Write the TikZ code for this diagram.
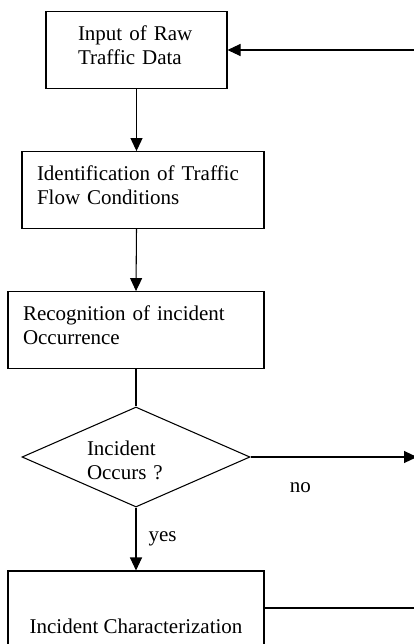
\documentclass[tikz,border=0pt]{standalone}
\usepackage{fontspec}
\setmainfont{Liberation Serif}
\usetikzlibrary{shapes.geometric,arrows.meta,positioning}

\tikzset{
  stepbox/.style={draw, line width=0.8pt, rectangle, align=left,
    inner xsep=11.25pt, inner ysep=10.5pt, text depth=25.5pt},
  endbox/.style={draw, line width=0.8pt, rectangle, align=center,
    minimum width=192pt, minimum height=82.5pt, inner sep=0pt},
  decide/.style={draw, line width=0.8pt, shape=diamond, aspect=2.28,
    minimum width=171pt, minimum height=75pt, inner sep=0pt,
    text width=73.5pt, align=left, text height=16.5pt},
  flow/.style={line width=0.8pt, -{Triangle[length=9.75pt,width=9pt]}},
  plain/.style={line width=0.8pt},
  tag/.style={inner sep=0pt}
}

\begin{document}
\begin{tikzpicture}[x=0.75pt, y=-0.75pt, font=\fontsize{15.75}{18}\selectfont]
%\draw[help lines, step=50] (0,0) grid (414,644);
\useasboundingbox (0,0) rectangle (414,644);
\clip (0,0) rectangle (414,644);

\node[stepbox, inner xsep=24pt, text width=87.75pt] (rawdata) at (136.5,50)
  {Input of Raw\\Traffic Data};
\node[stepbox, text width=159pt] (flowcond) at (143,190)
  {Identification of Traffic\\Flow Conditions};
\node[stepbox, text width=169.5pt] (recog) at (136,330)
  {Recognition of incident\\Occurrence};
\node[decide] (occurs) at (136,457) {Incident\\Occurs ?};
\node[endbox] (charact) at (136,626) {Incident Characterization};

\coordinate (noend) at (417,457);
\coordinate (loopin) at (420,50);
\coordinate (loopout) at (420,608);

\draw[flow] (rawdata.south) -- (rawdata.south |- flowcond.north);
\draw[flow] (rawdata.south |- flowcond.south) -- (recog.north);
\draw[plain] (recog.south) -- (occurs.north);
\draw[flow] (occurs.south) -- node[tag, midway, right=9pt] {yes} (charact.north);
\draw[flow] (occurs.east) -- node[tag, pos=0.3, below=19.1pt] {no} (noend);
\draw[plain] ([yshift=13.5pt]charact.east) -- (loopout);
\draw[flow] (loopin) -- (rawdata.east);
\end{tikzpicture}
\end{document}
